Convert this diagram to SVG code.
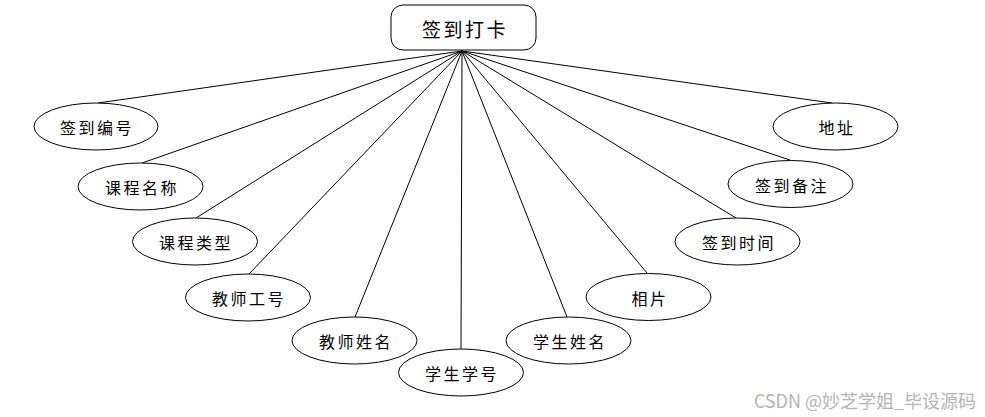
<svg xmlns="http://www.w3.org/2000/svg" width="985" height="417" viewBox="0 0 985 417">
<style>
.e{fill:#fff;stroke:#000;stroke-width:1}
.t{font-family:"Noto Sans CJK SC","Liberation Sans",sans-serif;font-size:16px;letter-spacing:2.5px;fill:#000;text-anchor:middle;dominant-baseline:central}
.c line{stroke:#000;stroke-width:1}
</style>
<rect width="985" height="417" fill="#fff"/>
<g class="c" id="connectors">
<line x1="462" y1="51" x2="98" y2="103"/>
<line x1="462" y1="51" x2="142" y2="163"/>
<line x1="462" y1="51" x2="196" y2="218"/>
<line x1="462" y1="51" x2="249" y2="274"/>
<line x1="462" y1="51" x2="355" y2="317"/>
<line x1="462" y1="51" x2="461" y2="349"/>
<line x1="462" y1="51" x2="567" y2="317"/>
<line x1="462" y1="51" x2="647" y2="273"/>
<line x1="462" y1="51" x2="736" y2="218"/>
<line x1="462" y1="51" x2="790" y2="160"/>
<line x1="462" y1="51" x2="832" y2="103"/>
</g>
<g id="root"><rect x="391" y="5" width="145" height="45" rx="12" class="e"/><text x="465" y="28" class="t" style="font-size:19px">签到打卡</text></g>
<g id="n1"><ellipse cx="96" cy="126.5" rx="62" ry="23.5" class="e"/><text x="97" y="127" class="t">签到编号</text></g>
<g id="n2"><ellipse cx="140.5" cy="186.5" rx="62.5" ry="23.5" class="e"/><text x="142" y="187" class="t">课程名称</text></g>
<g id="n3"><ellipse cx="195" cy="241.5" rx="62.5" ry="23.5" class="e"/><text x="196" y="242" class="t">课程类型</text></g>
<g id="n4"><ellipse cx="248" cy="297.5" rx="62.5" ry="23.5" class="e"/><text x="249" y="298" class="t">教师工号</text></g>
<g id="n5"><ellipse cx="354.5" cy="340.5" rx="62.5" ry="23.5" class="e"/><text x="356" y="341" class="t">教师姓名</text></g>
<g id="n6"><ellipse cx="461" cy="372.5" rx="62.5" ry="23.5" class="e"/><text x="462" y="373" class="t">学生学号</text></g>
<g id="n7"><ellipse cx="568.5" cy="340.5" rx="62.5" ry="23.5" class="e"/><text x="570" y="341" class="t">学生姓名</text></g>
<g id="n8"><ellipse cx="648.5" cy="297" rx="62.5" ry="23.5" class="e"/><text x="650" y="297.5" class="t">相片</text></g>
<g id="n9"><ellipse cx="737.5" cy="241.5" rx="62.5" ry="23.5" class="e"/><text x="739" y="242" class="t">签到时间</text></g>
<g id="n10"><ellipse cx="790.5" cy="184" rx="62.5" ry="23.5" class="e"/><text x="792" y="184.5" class="t">签到备注</text></g>
<g id="n11"><ellipse cx="835.5" cy="126.5" rx="62.5" ry="23.5" class="e"/><text x="837" y="127" class="t">地址</text></g>
<text x="865" y="400" style="font-family:'Noto Sans CJK SC','Liberation Sans',sans-serif;font-size:18px;fill:#b4b4b4;text-anchor:middle;dominant-baseline:central">CSDN @妙芝学姐_毕设源码</text>
</svg>
